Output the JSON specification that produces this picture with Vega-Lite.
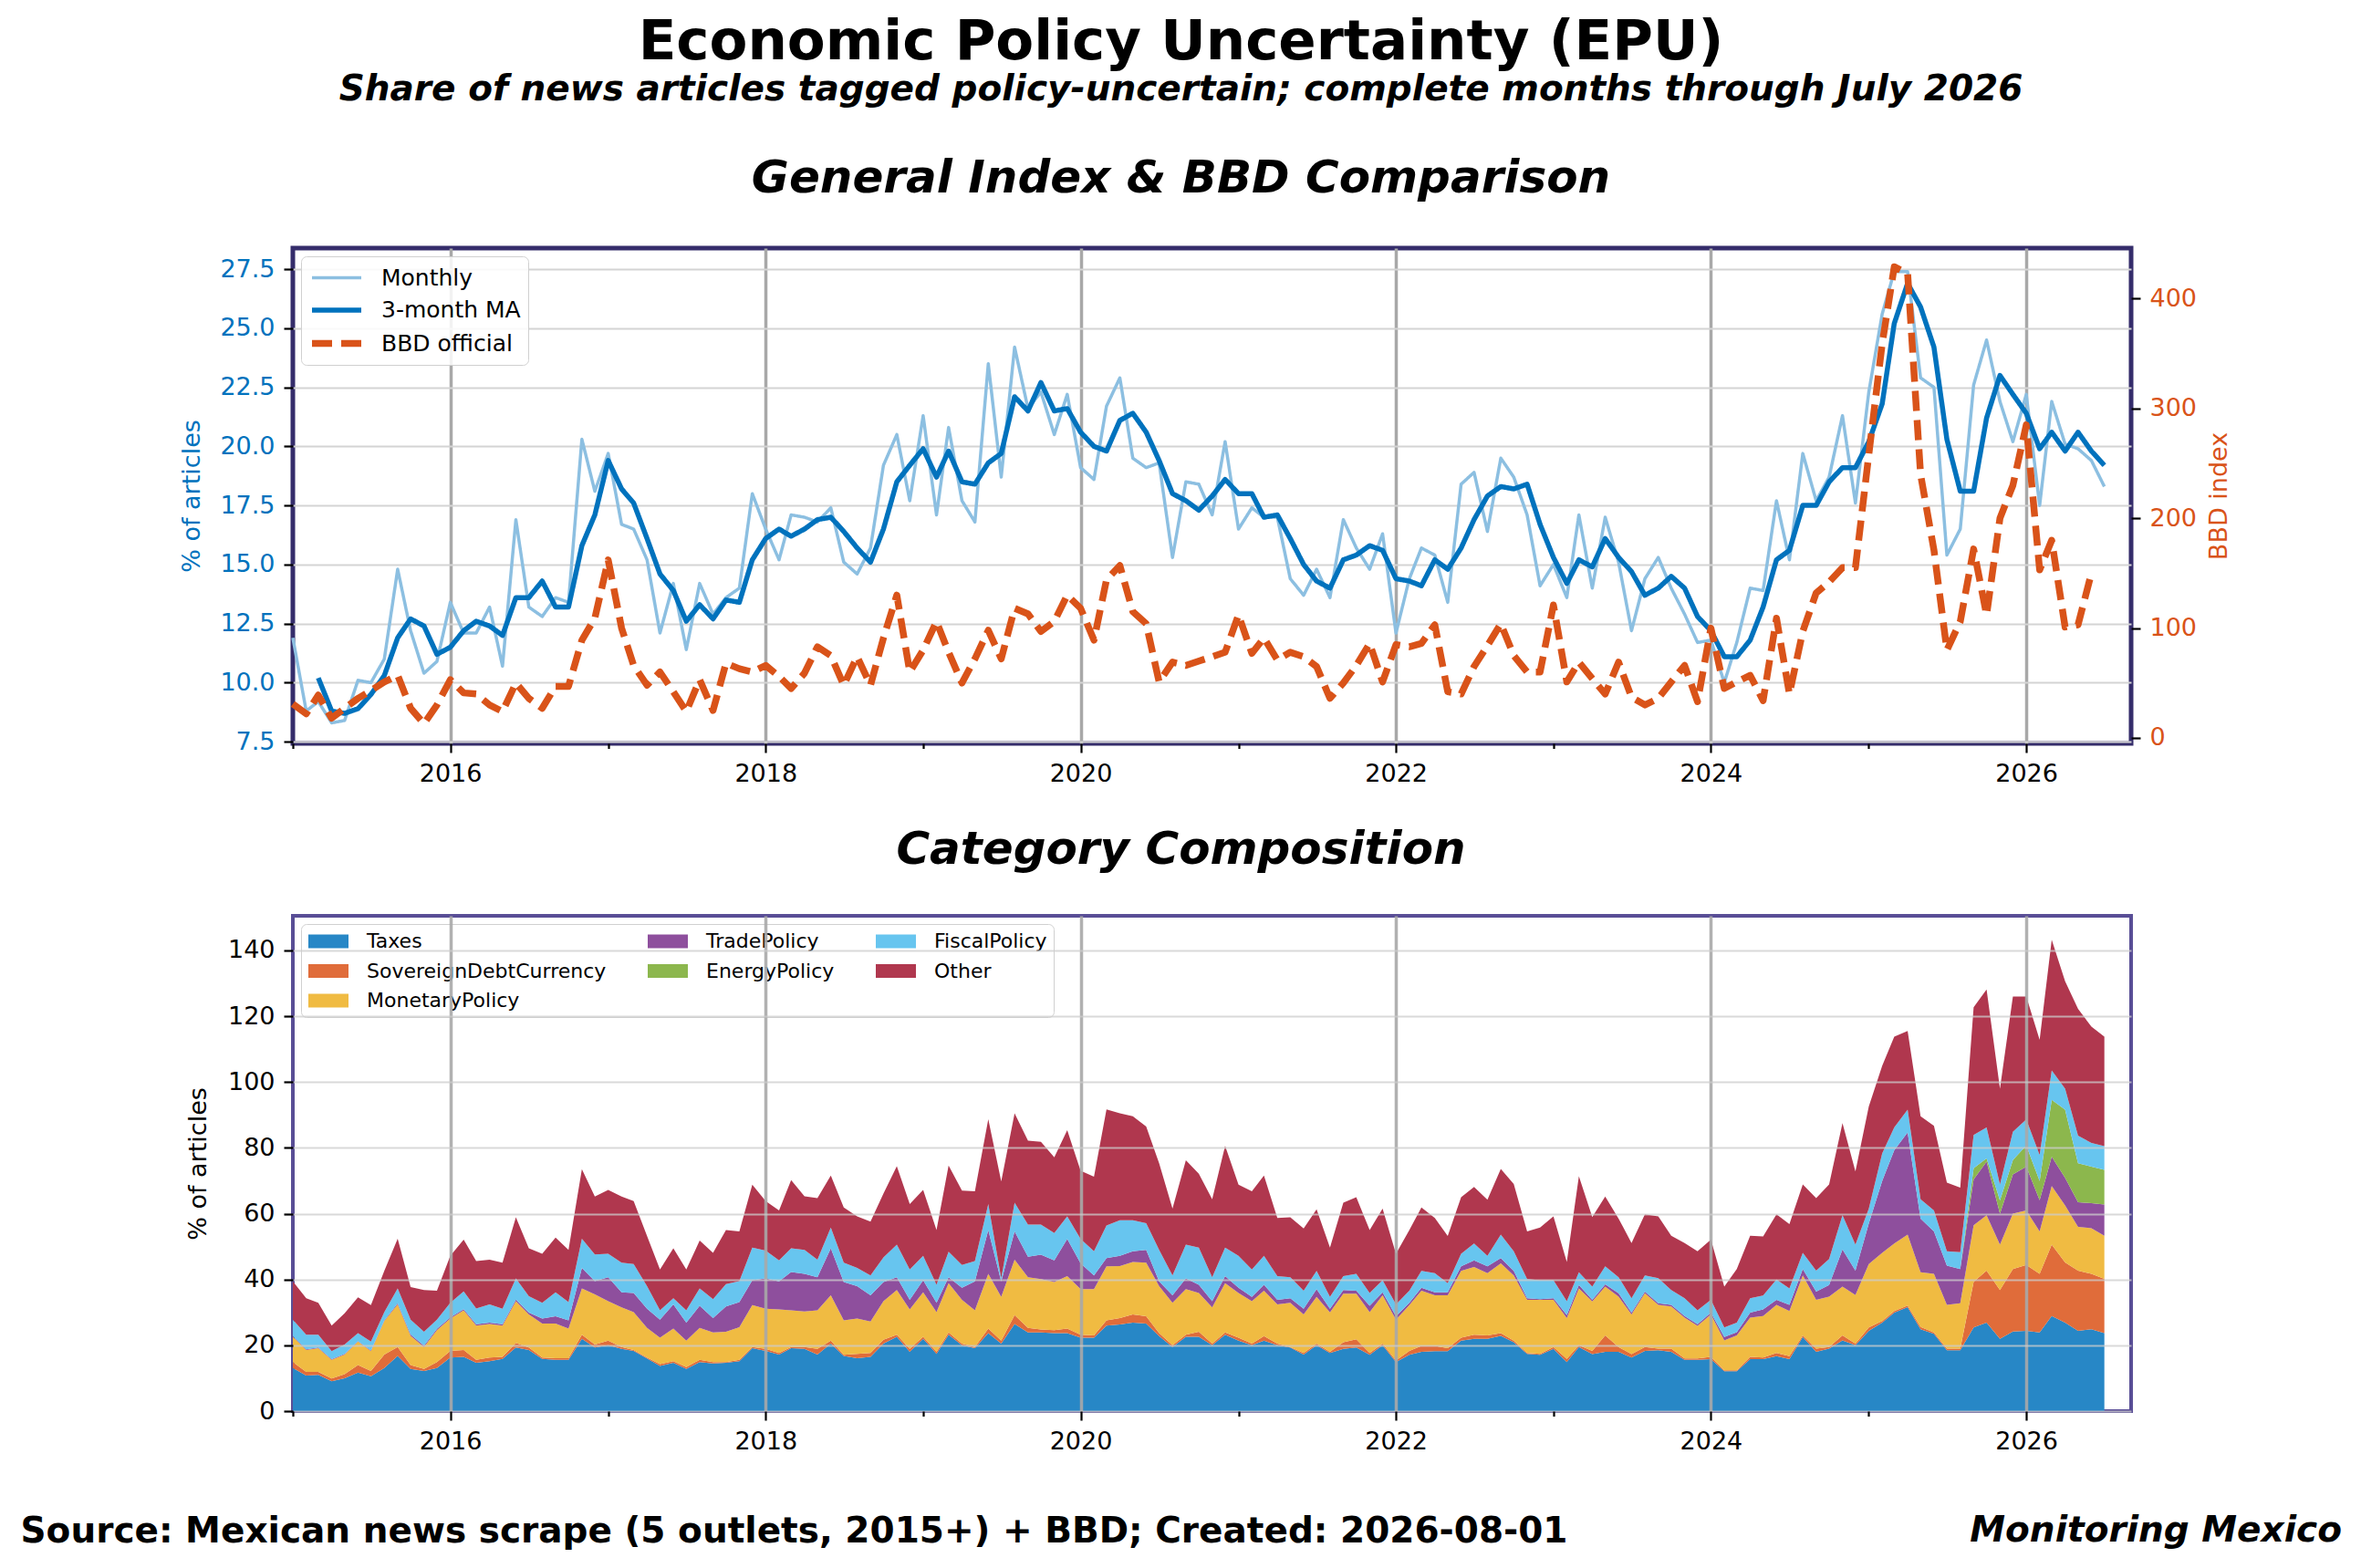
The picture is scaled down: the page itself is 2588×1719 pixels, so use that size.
{
"$schema": "https://vega.github.io/schema/vega-lite/v6.json",
"background": "white",
"padding": {"left": 20, "top": 15, "right": 20, "bottom": 10},
"title": {"text": "Economic Policy Uncertainty (EPU)", "subtitle": "Share of news articles tagged policy-uncertain; complete months through July 2026", "fontSize": 61, "fontWeight": "bold", "font": "DejaVu Sans", "color": "black", "subtitleFont": "DejaVu Sans", "subtitleFontSize": 39, "subtitleFontWeight": "bold", "subtitleFontStyle": "italic", "subtitleColor": "black", "subtitlePadding": 1, "anchor": "middle", "frame": "bounds", "offset": 50},
"datasets": {"ord": [{"category":"Taxes","o":1},{"category":"SovereignDebtCurrency","o":2},{"category":"MonetaryPolicy","o":3},{"category":"TradePolicy","o":4},{"category":"EnergyPolicy","o":5},{"category":"FiscalPolicy","o":6},{"category":"Other","o":7}]},
"data": {"values": [
{"d":"2015-01-01","Monthly":11.9,"3-month MA":null,"BBD official":31,"Taxes":13.1,"SovereignDebtCurrency":1.8,"MonetaryPolicy":7.7,"TradePolicy":0.2,"EnergyPolicy":0,"FiscalPolicy":5.0,"Other":11.6},
{"d":"2015-02-01","Monthly":8.8,"3-month MA":null,"BBD official":22,"Taxes":10.8,"SovereignDebtCurrency":1.1,"MonetaryPolicy":6.7,"TradePolicy":0.2,"EnergyPolicy":0,"FiscalPolicy":4.4,"Other":11.1},
{"d":"2015-03-01","Monthly":9.2,"3-month MA":10.2,"BBD official":39,"Taxes":11.0,"SovereignDebtCurrency":0.9,"MonetaryPolicy":7.2,"TradePolicy":0.2,"EnergyPolicy":0,"FiscalPolicy":3.9,"Other":9.7},
{"d":"2015-04-01","Monthly":8.3,"3-month MA":8.8,"BBD official":18,"Taxes":9.1,"SovereignDebtCurrency":0.8,"MonetaryPolicy":5.7,"TradePolicy":0.2,"EnergyPolicy":0,"FiscalPolicy":2.4,"Other":7.8},
{"d":"2015-05-01","Monthly":8.4,"3-month MA":8.7,"BBD official":27,"Taxes":10.0,"SovereignDebtCurrency":1.2,"MonetaryPolicy":6.0,"TradePolicy":0.2,"EnergyPolicy":0,"FiscalPolicy":2.8,"Other":9.5},
{"d":"2015-06-01","Monthly":10.1,"3-month MA":8.9,"BBD official":36,"Taxes":11.7,"SovereignDebtCurrency":2.3,"MonetaryPolicy":7.1,"TradePolicy":0.2,"EnergyPolicy":0,"FiscalPolicy":2.4,"Other":10.9},
{"d":"2015-07-01","Monthly":10.0,"3-month MA":9.5,"BBD official":43,"Taxes":10.6,"SovereignDebtCurrency":1.6,"MonetaryPolicy":6.0,"TradePolicy":0.2,"EnergyPolicy":0,"FiscalPolicy":2.7,"Other":11.1},
{"d":"2015-08-01","Monthly":11.0,"3-month MA":10.3,"BBD official":51,"Taxes":13.1,"SovereignDebtCurrency":4.1,"MonetaryPolicy":10.2,"TradePolicy":0.2,"EnergyPolicy":0,"FiscalPolicy":2.5,"Other":12.5},
{"d":"2015-09-01","Monthly":14.8,"3-month MA":11.9,"BBD official":57,"Taxes":16.8,"SovereignDebtCurrency":2.7,"MonetaryPolicy":12.9,"TradePolicy":0.4,"EnergyPolicy":0,"FiscalPolicy":4.5,"Other":15.1},
{"d":"2015-10-01","Monthly":12.2,"3-month MA":12.7,"BBD official":27,"Taxes":12.8,"SovereignDebtCurrency":1.2,"MonetaryPolicy":8.9,"TradePolicy":0.4,"EnergyPolicy":0,"FiscalPolicy":4.5,"Other":9.9},
{"d":"2015-11-01","Monthly":10.4,"3-month MA":12.4,"BBD official":13,"Taxes":12.2,"SovereignDebtCurrency":0.6,"MonetaryPolicy":6.7,"TradePolicy":0.4,"EnergyPolicy":0,"FiscalPolicy":4.2,"Other":12.7},
{"d":"2015-12-01","Monthly":10.9,"3-month MA":11.2,"BBD official":30,"Taxes":13.1,"SovereignDebtCurrency":1.8,"MonetaryPolicy":9.7,"TradePolicy":0.4,"EnergyPolicy":0,"FiscalPolicy":2.8,"Other":8.8},
{"d":"2016-01-01","Monthly":13.4,"3-month MA":11.5,"BBD official":53,"Taxes":16.3,"SovereignDebtCurrency":2.0,"MonetaryPolicy":9.8,"TradePolicy":0.4,"EnergyPolicy":0,"FiscalPolicy":4.4,"Other":14.3},
{"d":"2016-02-01","Monthly":12.1,"3-month MA":12.2,"BBD official":41,"Taxes":16.5,"SovereignDebtCurrency":2.1,"MonetaryPolicy":12.0,"TradePolicy":0.4,"EnergyPolicy":0,"FiscalPolicy":5.4,"Other":15.7},
{"d":"2016-03-01","Monthly":12.1,"3-month MA":12.6,"BBD official":40,"Taxes":14.7,"SovereignDebtCurrency":0.9,"MonetaryPolicy":10.4,"TradePolicy":0.4,"EnergyPolicy":0,"FiscalPolicy":4.8,"Other":14.4},
{"d":"2016-04-01","Monthly":13.2,"3-month MA":12.4,"BBD official":30,"Taxes":15.2,"SovereignDebtCurrency":1.1,"MonetaryPolicy":10.2,"TradePolicy":0.4,"EnergyPolicy":0,"FiscalPolicy":5.5,"Other":13.6},
{"d":"2016-05-01","Monthly":10.7,"3-month MA":12.0,"BBD official":24,"Taxes":15.9,"SovereignDebtCurrency":0.6,"MonetaryPolicy":9.5,"TradePolicy":0.4,"EnergyPolicy":0,"FiscalPolicy":4.7,"Other":14.0},
{"d":"2016-06-01","Monthly":16.9,"3-month MA":13.6,"BBD official":50,"Taxes":19.3,"SovereignDebtCurrency":1.4,"MonetaryPolicy":12.7,"TradePolicy":0.5,"EnergyPolicy":0,"FiscalPolicy":6.4,"Other":18.6},
{"d":"2016-07-01","Monthly":13.2,"3-month MA":13.6,"BBD official":36,"Taxes":18.6,"SovereignDebtCurrency":0.7,"MonetaryPolicy":10.1,"TradePolicy":0.5,"EnergyPolicy":0,"FiscalPolicy":5.0,"Other":14.6},
{"d":"2016-08-01","Monthly":12.8,"3-month MA":14.3,"BBD official":27,"Taxes":15.9,"SovereignDebtCurrency":0.4,"MonetaryPolicy":10.3,"TradePolicy":1.5,"EnergyPolicy":0,"FiscalPolicy":4.8,"Other":14.9},
{"d":"2016-09-01","Monthly":13.6,"3-month MA":13.2,"BBD official":47,"Taxes":15.6,"SovereignDebtCurrency":0.5,"MonetaryPolicy":10.5,"TradePolicy":2.2,"EnergyPolicy":0,"FiscalPolicy":7.3,"Other":16.6},
{"d":"2016-10-01","Monthly":13.4,"3-month MA":13.2,"BBD official":47,"Taxes":15.6,"SovereignDebtCurrency":0.5,"MonetaryPolicy":9.0,"TradePolicy":2.5,"EnergyPolicy":0,"FiscalPolicy":5.5,"Other":15.9},
{"d":"2016-11-01","Monthly":20.3,"3-month MA":15.8,"BBD official":89,"Taxes":22.0,"SovereignDebtCurrency":1.2,"MonetaryPolicy":14.1,"TradePolicy":6.2,"EnergyPolicy":0,"FiscalPolicy":8.9,"Other":21.1},
{"d":"2016-12-01","Monthly":18.1,"3-month MA":17.1,"BBD official":109,"Taxes":19.3,"SovereignDebtCurrency":0.9,"MonetaryPolicy":15.3,"TradePolicy":4.0,"EnergyPolicy":0,"FiscalPolicy":8.1,"Other":17.6},
{"d":"2017-01-01","Monthly":19.7,"3-month MA":19.4,"BBD official":162,"Taxes":20.0,"SovereignDebtCurrency":1.4,"MonetaryPolicy":12.0,"TradePolicy":7.3,"EnergyPolicy":0,"FiscalPolicy":7.1,"Other":19.4},
{"d":"2017-02-01","Monthly":16.7,"3-month MA":18.2,"BBD official":100,"Taxes":18.9,"SovereignDebtCurrency":0.6,"MonetaryPolicy":12.0,"TradePolicy":4.6,"EnergyPolicy":0,"FiscalPolicy":9.0,"Other":20.1},
{"d":"2017-03-01","Monthly":16.5,"3-month MA":17.6,"BBD official":66,"Taxes":18.3,"SovereignDebtCurrency":0.3,"MonetaryPolicy":11.5,"TradePolicy":5.8,"EnergyPolicy":0,"FiscalPolicy":8.8,"Other":19.1},
{"d":"2017-04-01","Monthly":15.2,"3-month MA":16.1,"BBD official":48,"Taxes":16.0,"SovereignDebtCurrency":0.3,"MonetaryPolicy":9.0,"TradePolicy":5.8,"EnergyPolicy":0,"FiscalPolicy":6.9,"Other":15.2},
{"d":"2017-05-01","Monthly":12.1,"3-month MA":14.6,"BBD official":60,"Taxes":13.7,"SovereignDebtCurrency":0.6,"MonetaryPolicy":8.0,"TradePolicy":5.5,"EnergyPolicy":0,"FiscalPolicy":2.8,"Other":12.4},
{"d":"2017-06-01","Monthly":14.2,"3-month MA":13.9,"BBD official":42,"Taxes":14.7,"SovereignDebtCurrency":0.5,"MonetaryPolicy":9.9,"TradePolicy":7.3,"EnergyPolicy":0,"FiscalPolicy":1.9,"Other":15.2},
{"d":"2017-07-01","Monthly":11.4,"3-month MA":12.6,"BBD official":24,"Taxes":12.8,"SovereignDebtCurrency":0.6,"MonetaryPolicy":8.0,"TradePolicy":5.5,"EnergyPolicy":0,"FiscalPolicy":3.7,"Other":12.4},
{"d":"2017-08-01","Monthly":14.2,"3-month MA":13.3,"BBD official":53,"Taxes":14.9,"SovereignDebtCurrency":0.7,"MonetaryPolicy":9.7,"TradePolicy":6.7,"EnergyPolicy":0,"FiscalPolicy":5.3,"Other":14.5},
{"d":"2017-09-01","Monthly":12.9,"3-month MA":12.7,"BBD official":25,"Taxes":14.5,"SovereignDebtCurrency":0.4,"MonetaryPolicy":9.0,"TradePolicy":4.4,"EnergyPolicy":0,"FiscalPolicy":5.7,"Other":14.1},
{"d":"2017-10-01","Monthly":13.6,"3-month MA":13.5,"BBD official":68,"Taxes":14.7,"SovereignDebtCurrency":0.2,"MonetaryPolicy":9.2,"TradePolicy":7.7,"EnergyPolicy":0,"FiscalPolicy":6.8,"Other":16.4},
{"d":"2017-11-01","Monthly":14.0,"3-month MA":13.4,"BBD official":63,"Taxes":15.2,"SovereignDebtCurrency":0.4,"MonetaryPolicy":9.9,"TradePolicy":7.6,"EnergyPolicy":0,"FiscalPolicy":6.4,"Other":15.1},
{"d":"2017-12-01","Monthly":18.0,"3-month MA":15.2,"BBD official":60,"Taxes":19.1,"SovereignDebtCurrency":0.4,"MonetaryPolicy":12.7,"TradePolicy":7.6,"EnergyPolicy":0,"FiscalPolicy":9.9,"Other":19.1},
{"d":"2018-01-01","Monthly":16.5,"3-month MA":16.1,"BBD official":66,"Taxes":18.3,"SovereignDebtCurrency":0.6,"MonetaryPolicy":12.2,"TradePolicy":9.2,"EnergyPolicy":0,"FiscalPolicy":8.5,"Other":15.0},
{"d":"2018-02-01","Monthly":15.2,"3-month MA":16.5,"BBD official":56,"Taxes":17.2,"SovereignDebtCurrency":0.5,"MonetaryPolicy":13.2,"TradePolicy":8.5,"EnergyPolicy":0,"FiscalPolicy":6.4,"Other":15.2},
{"d":"2018-03-01","Monthly":17.1,"3-month MA":16.2,"BBD official":45,"Taxes":19.1,"SovereignDebtCurrency":0.4,"MonetaryPolicy":11.1,"TradePolicy":11.7,"EnergyPolicy":0,"FiscalPolicy":7.2,"Other":20.7},
{"d":"2018-04-01","Monthly":17.0,"3-month MA":16.5,"BBD official":59,"Taxes":18.9,"SovereignDebtCurrency":0.6,"MonetaryPolicy":10.8,"TradePolicy":11.4,"EnergyPolicy":0,"FiscalPolicy":7.3,"Other":16.3},
{"d":"2018-05-01","Monthly":16.8,"3-month MA":16.9,"BBD official":83,"Taxes":17.2,"SovereignDebtCurrency":1.7,"MonetaryPolicy":11.7,"TradePolicy":10.1,"EnergyPolicy":0,"FiscalPolicy":5.3,"Other":18.7},
{"d":"2018-06-01","Monthly":17.4,"3-month MA":17.0,"BBD official":75,"Taxes":20.5,"SovereignDebtCurrency":0.9,"MonetaryPolicy":13.8,"TradePolicy":14.3,"EnergyPolicy":0,"FiscalPolicy":6.3,"Other":15.8},
{"d":"2018-07-01","Monthly":15.1,"3-month MA":16.4,"BBD official":48,"Taxes":16.8,"SovereignDebtCurrency":0.3,"MonetaryPolicy":10.5,"TradePolicy":11.6,"EnergyPolicy":0,"FiscalPolicy":5.9,"Other":16.8},
{"d":"2018-08-01","Monthly":14.6,"3-month MA":15.7,"BBD official":74,"Taxes":16.1,"SovereignDebtCurrency":1.3,"MonetaryPolicy":10.7,"TradePolicy":9.9,"EnergyPolicy":0,"FiscalPolicy":5.5,"Other":15.7},
{"d":"2018-09-01","Monthly":15.7,"3-month MA":15.1,"BBD official":48,"Taxes":16.5,"SovereignDebtCurrency":1.2,"MonetaryPolicy":9.5,"TradePolicy":8.0,"EnergyPolicy":0,"FiscalPolicy":6.0,"Other":16.4},
{"d":"2018-10-01","Monthly":19.2,"3-month MA":16.5,"BBD official":91,"Taxes":20.5,"SovereignDebtCurrency":1.2,"MonetaryPolicy":11.7,"TradePolicy":5.8,"EnergyPolicy":0,"FiscalPolicy":7.5,"Other":19.4},
{"d":"2018-11-01","Monthly":20.5,"3-month MA":18.5,"BBD official":130,"Taxes":22.6,"SovereignDebtCurrency":0.6,"MonetaryPolicy":13.6,"TradePolicy":3.9,"EnergyPolicy":0,"FiscalPolicy":9.9,"Other":23.8},
{"d":"2018-12-01","Monthly":17.7,"3-month MA":19.2,"BBD official":60,"Taxes":18.0,"SovereignDebtCurrency":0.9,"MonetaryPolicy":12.0,"TradePolicy":2.9,"EnergyPolicy":0,"FiscalPolicy":9.2,"Other":19.9},
{"d":"2019-01-01","Monthly":21.3,"3-month MA":19.9,"BBD official":80,"Taxes":22.0,"SovereignDebtCurrency":0.6,"MonetaryPolicy":13.5,"TradePolicy":3.7,"EnergyPolicy":0,"FiscalPolicy":7.4,"Other":20.0},
{"d":"2019-02-01","Monthly":17.1,"3-month MA":18.7,"BBD official":106,"Taxes":17.4,"SovereignDebtCurrency":0.6,"MonetaryPolicy":12.1,"TradePolicy":2.8,"EnergyPolicy":0,"FiscalPolicy":5.5,"Other":16.6},
{"d":"2019-03-01","Monthly":20.8,"3-month MA":19.8,"BBD official":78,"Taxes":23.2,"SovereignDebtCurrency":0.7,"MonetaryPolicy":15.0,"TradePolicy":1.8,"EnergyPolicy":0,"FiscalPolicy":7.7,"Other":26.2},
{"d":"2019-04-01","Monthly":17.7,"3-month MA":18.5,"BBD official":50,"Taxes":20.0,"SovereignDebtCurrency":0.5,"MonetaryPolicy":13.3,"TradePolicy":3.7,"EnergyPolicy":0,"FiscalPolicy":6.9,"Other":22.6},
{"d":"2019-05-01","Monthly":16.8,"3-month MA":18.4,"BBD official":72,"Taxes":19.1,"SovereignDebtCurrency":0.4,"MonetaryPolicy":11.1,"TradePolicy":8.8,"EnergyPolicy":0,"FiscalPolicy":6.2,"Other":21.2},
{"d":"2019-06-01","Monthly":23.5,"3-month MA":19.3,"BBD official":98,"Taxes":23.7,"SovereignDebtCurrency":1.4,"MonetaryPolicy":16.6,"TradePolicy":13.3,"EnergyPolicy":0,"FiscalPolicy":7.9,"Other":25.8},
{"d":"2019-07-01","Monthly":18.7,"3-month MA":19.7,"BBD official":72,"Taxes":20.5,"SovereignDebtCurrency":0.9,"MonetaryPolicy":13.3,"TradePolicy":4.7,"EnergyPolicy":0,"FiscalPolicy":0.9,"Other":29.5},
{"d":"2019-08-01","Monthly":24.2,"3-month MA":22.1,"BBD official":118,"Taxes":26.5,"SovereignDebtCurrency":2.7,"MonetaryPolicy":16.8,"TradePolicy":8.6,"EnergyPolicy":0,"FiscalPolicy":8.7,"Other":27.2},
{"d":"2019-09-01","Monthly":21.6,"3-month MA":21.5,"BBD official":113,"Taxes":23.9,"SovereignDebtCurrency":1.4,"MonetaryPolicy":15.4,"TradePolicy":6.2,"EnergyPolicy":0,"FiscalPolicy":9.8,"Other":25.5},
{"d":"2019-10-01","Monthly":22.3,"3-month MA":22.7,"BBD official":97,"Taxes":23.9,"SovereignDebtCurrency":0.9,"MonetaryPolicy":15.3,"TradePolicy":7.4,"EnergyPolicy":0,"FiscalPolicy":9.2,"Other":25.1},
{"d":"2019-11-01","Monthly":20.5,"3-month MA":21.5,"BBD official":106,"Taxes":23.7,"SovereignDebtCurrency":0.9,"MonetaryPolicy":14.6,"TradePolicy":6.6,"EnergyPolicy":0,"FiscalPolicy":8.3,"Other":23.0},
{"d":"2019-12-01","Monthly":22.2,"3-month MA":21.6,"BBD official":130,"Taxes":23.7,"SovereignDebtCurrency":1.4,"MonetaryPolicy":15.9,"TradePolicy":11.3,"EnergyPolicy":0,"FiscalPolicy":6.9,"Other":26.2},
{"d":"2020-01-01","Monthly":19.1,"3-month MA":20.6,"BBD official":118,"Taxes":22.3,"SovereignDebtCurrency":0.9,"MonetaryPolicy":13.9,"TradePolicy":7.8,"EnergyPolicy":0,"FiscalPolicy":7.4,"Other":20.7},
{"d":"2020-02-01","Monthly":18.6,"3-month MA":20.0,"BBD official":89,"Taxes":22.3,"SovereignDebtCurrency":0.7,"MonetaryPolicy":14.1,"TradePolicy":4.1,"EnergyPolicy":0,"FiscalPolicy":7.4,"Other":22.6},
{"d":"2020-03-01","Monthly":21.7,"3-month MA":19.8,"BBD official":144,"Taxes":26.0,"SovereignDebtCurrency":1.6,"MonetaryPolicy":16.4,"TradePolicy":2.5,"EnergyPolicy":0,"FiscalPolicy":9.9,"Other":35.3},
{"d":"2020-04-01","Monthly":22.9,"3-month MA":21.1,"BBD official":157,"Taxes":26.3,"SovereignDebtCurrency":2.0,"MonetaryPolicy":15.8,"TradePolicy":3.1,"EnergyPolicy":0,"FiscalPolicy":10.8,"Other":32.5},
{"d":"2020-05-01","Monthly":19.5,"3-month MA":21.4,"BBD official":115,"Taxes":26.9,"SovereignDebtCurrency":2.5,"MonetaryPolicy":15.9,"TradePolicy":3.3,"EnergyPolicy":0,"FiscalPolicy":9.4,"Other":31.6},
{"d":"2020-06-01","Monthly":19.1,"3-month MA":20.6,"BBD official":104,"Taxes":26.6,"SovereignDebtCurrency":2.2,"MonetaryPolicy":16.3,"TradePolicy":3.9,"EnergyPolicy":0,"FiscalPolicy":8.1,"Other":29.4},
{"d":"2020-07-01","Monthly":19.3,"3-month MA":19.4,"BBD official":51,"Taxes":22.8,"SovereignDebtCurrency":0.9,"MonetaryPolicy":14.3,"TradePolicy":1.4,"EnergyPolicy":0,"FiscalPolicy":9.6,"Other":26.3},
{"d":"2020-08-01","Monthly":15.3,"3-month MA":18.0,"BBD official":69,"Taxes":19.5,"SovereignDebtCurrency":0.5,"MonetaryPolicy":12.9,"TradePolicy":2.3,"EnergyPolicy":0,"FiscalPolicy":6.0,"Other":20.3},
{"d":"2020-09-01","Monthly":18.5,"3-month MA":17.7,"BBD official":66,"Taxes":22.6,"SovereignDebtCurrency":0.6,"MonetaryPolicy":13.9,"TradePolicy":3.2,"EnergyPolicy":0,"FiscalPolicy":10.3,"Other":25.6},
{"d":"2020-10-01","Monthly":18.4,"3-month MA":17.3,"BBD official":70,"Taxes":22.6,"SovereignDebtCurrency":1.5,"MonetaryPolicy":11.8,"TradePolicy":2.5,"EnergyPolicy":0,"FiscalPolicy":11.3,"Other":22.4},
{"d":"2020-11-01","Monthly":17.1,"3-month MA":17.9,"BBD official":74,"Taxes":20.0,"SovereignDebtCurrency":0.5,"MonetaryPolicy":11.0,"TradePolicy":1.9,"EnergyPolicy":0,"FiscalPolicy":7.3,"Other":23.7},
{"d":"2020-12-01","Monthly":20.2,"3-month MA":18.6,"BBD official":78,"Taxes":23.2,"SovereignDebtCurrency":0.7,"MonetaryPolicy":15.0,"TradePolicy":2.1,"EnergyPolicy":0,"FiscalPolicy":8.7,"Other":30.9},
{"d":"2021-01-01","Monthly":16.5,"3-month MA":18.0,"BBD official":112,"Taxes":21.4,"SovereignDebtCurrency":0.9,"MonetaryPolicy":13.6,"TradePolicy":1.6,"EnergyPolicy":0,"FiscalPolicy":9.7,"Other":21.6},
{"d":"2021-02-01","Monthly":17.4,"3-month MA":18.0,"BBD official":77,"Taxes":20.0,"SovereignDebtCurrency":0.5,"MonetaryPolicy":12.9,"TradePolicy":1.3,"EnergyPolicy":0,"FiscalPolicy":8.3,"Other":23.8},
{"d":"2021-03-01","Monthly":17.0,"3-month MA":17.0,"BBD official":91,"Taxes":21.4,"SovereignDebtCurrency":1.4,"MonetaryPolicy":13.8,"TradePolicy":1.8,"EnergyPolicy":0,"FiscalPolicy":8.8,"Other":24.4},
{"d":"2021-04-01","Monthly":17.0,"3-month MA":17.1,"BBD official":71,"Taxes":20.0,"SovereignDebtCurrency":0.5,"MonetaryPolicy":11.9,"TradePolicy":1.4,"EnergyPolicy":0,"FiscalPolicy":7.2,"Other":17.7},
{"d":"2021-05-01","Monthly":14.4,"3-month MA":16.1,"BBD official":78,"Taxes":19.3,"SovereignDebtCurrency":0.2,"MonetaryPolicy":13.4,"TradePolicy":1.4,"EnergyPolicy":0,"FiscalPolicy":6.4,"Other":18.2},
{"d":"2021-06-01","Monthly":13.7,"3-month MA":15.0,"BBD official":74,"Taxes":17.2,"SovereignDebtCurrency":0.5,"MonetaryPolicy":11.7,"TradePolicy":1.7,"EnergyPolicy":0,"FiscalPolicy":5.5,"Other":18.9},
{"d":"2021-07-01","Monthly":14.8,"3-month MA":14.3,"BBD official":65,"Taxes":20.0,"SovereignDebtCurrency":0.5,"MonetaryPolicy":14.2,"TradePolicy":2.4,"EnergyPolicy":0,"FiscalPolicy":5.5,"Other":18.7},
{"d":"2021-08-01","Monthly":13.6,"3-month MA":14.0,"BBD official":36,"Taxes":17.7,"SovereignDebtCurrency":0.3,"MonetaryPolicy":12.0,"TradePolicy":1.1,"EnergyPolicy":0,"FiscalPolicy":3.6,"Other":15.0},
{"d":"2021-09-01","Monthly":16.9,"3-month MA":15.2,"BBD official":50,"Taxes":18.9,"SovereignDebtCurrency":2.0,"MonetaryPolicy":14.8,"TradePolicy":1.1,"EnergyPolicy":0,"FiscalPolicy":4.2,"Other":22.3},
{"d":"2021-10-01","Monthly":15.7,"3-month MA":15.4,"BBD official":66,"Taxes":19.3,"SovereignDebtCurrency":2.5,"MonetaryPolicy":13.9,"TradePolicy":0.9,"EnergyPolicy":0,"FiscalPolicy":5.1,"Other":23.3},
{"d":"2021-11-01","Monthly":14.8,"3-month MA":15.8,"BBD official":86,"Taxes":17.1,"SovereignDebtCurrency":0.6,"MonetaryPolicy":12.4,"TradePolicy":1.9,"EnergyPolicy":0,"FiscalPolicy":3.9,"Other":19.1},
{"d":"2021-12-01","Monthly":16.3,"3-month MA":15.6,"BBD official":51,"Taxes":20.0,"SovereignDebtCurrency":0.5,"MonetaryPolicy":14.7,"TradePolicy":0.9,"EnergyPolicy":0,"FiscalPolicy":3.7,"Other":21.7},
{"d":"2022-01-01","Monthly":12.1,"3-month MA":14.4,"BBD official":85,"Taxes":14.9,"SovereignDebtCurrency":0.5,"MonetaryPolicy":12.4,"TradePolicy":1.0,"EnergyPolicy":0,"FiscalPolicy":3.6,"Other":15.4},
{"d":"2022-02-01","Monthly":14.4,"3-month MA":14.3,"BBD official":83,"Taxes":17.1,"SovereignDebtCurrency":1.2,"MonetaryPolicy":13.9,"TradePolicy":0.7,"EnergyPolicy":0,"FiscalPolicy":3.7,"Other":18.4},
{"d":"2022-03-01","Monthly":15.7,"3-month MA":14.1,"BBD official":86,"Taxes":18.0,"SovereignDebtCurrency":1.8,"MonetaryPolicy":16.8,"TradePolicy":0.9,"EnergyPolicy":0,"FiscalPolicy":5.1,"Other":19.3},
{"d":"2022-04-01","Monthly":15.4,"3-month MA":15.2,"BBD official":103,"Taxes":18.2,"SovereignDebtCurrency":1.6,"MonetaryPolicy":15.4,"TradePolicy":0.9,"EnergyPolicy":0,"FiscalPolicy":5.8,"Other":16.8},
{"d":"2022-05-01","Monthly":13.4,"3-month MA":14.8,"BBD official":42,"Taxes":18.2,"SovereignDebtCurrency":0.9,"MonetaryPolicy":16.1,"TradePolicy":0.9,"EnergyPolicy":0,"FiscalPolicy":2.8,"Other":14.3},
{"d":"2022-06-01","Monthly":18.4,"3-month MA":15.7,"BBD official":40,"Taxes":21.4,"SovereignDebtCurrency":0.9,"MonetaryPolicy":20.3,"TradePolicy":1.4,"EnergyPolicy":0,"FiscalPolicy":3.8,"Other":17.2},
{"d":"2022-07-01","Monthly":18.9,"3-month MA":16.9,"BBD official":65,"Taxes":22.0,"SovereignDebtCurrency":1.2,"MonetaryPolicy":20.6,"TradePolicy":2.0,"EnergyPolicy":0,"FiscalPolicy":5.1,"Other":17.2},
{"d":"2022-08-01","Monthly":16.4,"3-month MA":17.9,"BBD official":84,"Taxes":22.0,"SovereignDebtCurrency":1.0,"MonetaryPolicy":18.9,"TradePolicy":2.1,"EnergyPolicy":0,"FiscalPolicy":3.2,"Other":17.0},
{"d":"2022-09-01","Monthly":19.5,"3-month MA":18.3,"BBD official":104,"Taxes":22.9,"SovereignDebtCurrency":0.8,"MonetaryPolicy":21.2,"TradePolicy":1.6,"EnergyPolicy":0,"FiscalPolicy":7.1,"Other":20.0},
{"d":"2022-10-01","Monthly":18.7,"3-month MA":18.2,"BBD official":75,"Taxes":20.9,"SovereignDebtCurrency":0.5,"MonetaryPolicy":19.8,"TradePolicy":1.4,"EnergyPolicy":0,"FiscalPolicy":6.0,"Other":20.4},
{"d":"2022-11-01","Monthly":17.1,"3-month MA":18.4,"BBD official":60,"Taxes":17.4,"SovereignDebtCurrency":0.3,"MonetaryPolicy":16.1,"TradePolicy":0.5,"EnergyPolicy":0,"FiscalPolicy":5.8,"Other":14.5},
{"d":"2022-12-01","Monthly":14.1,"3-month MA":16.7,"BBD official":60,"Taxes":17.1,"SovereignDebtCurrency":0.3,"MonetaryPolicy":16.4,"TradePolicy":0.2,"EnergyPolicy":0,"FiscalPolicy":5.8,"Other":16.0},
{"d":"2023-01-01","Monthly":15.0,"3-month MA":15.3,"BBD official":121,"Taxes":18.9,"SovereignDebtCurrency":0.6,"MonetaryPolicy":14.3,"TradePolicy":0.5,"EnergyPolicy":0,"FiscalPolicy":5.5,"Other":19.4},
{"d":"2023-02-01","Monthly":13.6,"3-month MA":14.2,"BBD official":51,"Taxes":14.9,"SovereignDebtCurrency":1.0,"MonetaryPolicy":12.4,"TradePolicy":0.9,"EnergyPolicy":0,"FiscalPolicy":4.2,"Other":11.9},
{"d":"2023-03-01","Monthly":17.1,"3-month MA":15.2,"BBD official":69,"Taxes":19.5,"SovereignDebtCurrency":0.5,"MonetaryPolicy":17.3,"TradePolicy":1.0,"EnergyPolicy":0,"FiscalPolicy":3.9,"Other":29.2},
{"d":"2023-04-01","Monthly":14.0,"3-month MA":14.9,"BBD official":54,"Taxes":17.3,"SovereignDebtCurrency":1.0,"MonetaryPolicy":15.0,"TradePolicy":0.5,"EnergyPolicy":0,"FiscalPolicy":4.0,"Other":21.2},
{"d":"2023-05-01","Monthly":17.0,"3-month MA":16.1,"BBD official":40,"Taxes":18.0,"SovereignDebtCurrency":5.0,"MonetaryPolicy":14.8,"TradePolicy":0.7,"EnergyPolicy":0,"FiscalPolicy":5.5,"Other":21.2},
{"d":"2023-06-01","Monthly":15.1,"3-month MA":15.3,"BBD official":69,"Taxes":18.0,"SovereignDebtCurrency":1.5,"MonetaryPolicy":15.3,"TradePolicy":1.0,"EnergyPolicy":0,"FiscalPolicy":4.9,"Other":17.8},
{"d":"2023-07-01","Monthly":12.2,"3-month MA":14.7,"BBD official":37,"Taxes":16.3,"SovereignDebtCurrency":1.0,"MonetaryPolicy":12.1,"TradePolicy":0.5,"EnergyPolicy":0,"FiscalPolicy":4.4,"Other":16.8},
{"d":"2023-08-01","Monthly":14.4,"3-month MA":13.7,"BBD official":30,"Taxes":18.3,"SovereignDebtCurrency":1.2,"MonetaryPolicy":16.3,"TradePolicy":0.5,"EnergyPolicy":0,"FiscalPolicy":4.9,"Other":18.6},
{"d":"2023-09-01","Monthly":15.3,"3-month MA":14.0,"BBD official":36,"Taxes":18.5,"SovereignDebtCurrency":0.5,"MonetaryPolicy":13.3,"TradePolicy":0.5,"EnergyPolicy":0,"FiscalPolicy":7.6,"Other":18.8},
{"d":"2023-10-01","Monthly":14.0,"3-month MA":14.5,"BBD official":51,"Taxes":18.0,"SovereignDebtCurrency":1.0,"MonetaryPolicy":12.8,"TradePolicy":0.5,"EnergyPolicy":0,"FiscalPolicy":4.5,"Other":16.5},
{"d":"2023-11-01","Monthly":12.9,"3-month MA":14.0,"BBD official":66,"Taxes":15.6,"SovereignDebtCurrency":0.4,"MonetaryPolicy":12.4,"TradePolicy":0.5,"EnergyPolicy":0,"FiscalPolicy":5.4,"Other":16.8},
{"d":"2023-12-01","Monthly":11.7,"3-month MA":12.8,"BBD official":33,"Taxes":15.6,"SovereignDebtCurrency":0.4,"MonetaryPolicy":9.9,"TradePolicy":0.5,"EnergyPolicy":0,"FiscalPolicy":4.2,"Other":18.0},
{"d":"2024-01-01","Monthly":11.8,"3-month MA":12.2,"BBD official":100,"Taxes":15.8,"SovereignDebtCurrency":0.7,"MonetaryPolicy":12.9,"TradePolicy":0.5,"EnergyPolicy":0,"FiscalPolicy":3.9,"Other":18.3},
{"d":"2024-02-01","Monthly":10.0,"3-month MA":11.1,"BBD official":45,"Taxes":12.1,"SovereignDebtCurrency":0.3,"MonetaryPolicy":9.1,"TradePolicy":1.0,"EnergyPolicy":0,"FiscalPolicy":2.9,"Other":12.4},
{"d":"2024-03-01","Monthly":11.7,"3-month MA":11.1,"BBD official":51,"Taxes":12.1,"SovereignDebtCurrency":0.3,"MonetaryPolicy":10.6,"TradePolicy":1.0,"EnergyPolicy":0,"FiscalPolicy":2.9,"Other":16.3},
{"d":"2024-04-01","Monthly":14.0,"3-month MA":11.8,"BBD official":57,"Taxes":15.8,"SovereignDebtCurrency":0.7,"MonetaryPolicy":11.9,"TradePolicy":1.5,"EnergyPolicy":0,"FiscalPolicy":4.4,"Other":19.0},
{"d":"2024-05-01","Monthly":13.9,"3-month MA":13.2,"BBD official":34,"Taxes":15.8,"SovereignDebtCurrency":0.5,"MonetaryPolicy":12.6,"TradePolicy":2.0,"EnergyPolicy":0,"FiscalPolicy":4.2,"Other":18.0},
{"d":"2024-06-01","Monthly":17.7,"3-month MA":15.2,"BBD official":109,"Taxes":16.7,"SovereignDebtCurrency":1.0,"MonetaryPolicy":14.6,"TradePolicy":1.5,"EnergyPolicy":0,"FiscalPolicy":6.2,"Other":19.8},
{"d":"2024-07-01","Monthly":15.2,"3-month MA":15.6,"BBD official":40,"Taxes":15.8,"SovereignDebtCurrency":0.9,"MonetaryPolicy":13.7,"TradePolicy":1.9,"EnergyPolicy":0,"FiscalPolicy":5.0,"Other":19.5},
{"d":"2024-08-01","Monthly":19.7,"3-month MA":17.5,"BBD official":97,"Taxes":22.5,"SovereignDebtCurrency":0.5,"MonetaryPolicy":18.2,"TradePolicy":2.0,"EnergyPolicy":0,"FiscalPolicy":4.9,"Other":20.8},
{"d":"2024-09-01","Monthly":17.7,"3-month MA":17.5,"BBD official":132,"Taxes":18.0,"SovereignDebtCurrency":1.0,"MonetaryPolicy":14.8,"TradePolicy":2.5,"EnergyPolicy":0,"FiscalPolicy":6.4,"Other":22.0},
{"d":"2024-10-01","Monthly":18.7,"3-month MA":18.5,"BBD official":142,"Taxes":19.0,"SovereignDebtCurrency":0.5,"MonetaryPolicy":15.3,"TradePolicy":3.5,"EnergyPolicy":0,"FiscalPolicy":7.9,"Other":22.7},
{"d":"2024-11-01","Monthly":21.3,"3-month MA":19.1,"BBD official":155,"Taxes":21.5,"SovereignDebtCurrency":1.5,"MonetaryPolicy":14.8,"TradePolicy":11.3,"EnergyPolicy":0,"FiscalPolicy":10.4,"Other":28.0},
{"d":"2024-12-01","Monthly":17.6,"3-month MA":19.1,"BBD official":155,"Taxes":20.0,"SovereignDebtCurrency":0.5,"MonetaryPolicy":14.8,"TradePolicy":7.4,"EnergyPolicy":0,"FiscalPolicy":7.9,"Other":22.2},
{"d":"2025-01-01","Monthly":22.3,"3-month MA":20.2,"BBD official":258,"Taxes":24.4,"SovereignDebtCurrency":1.0,"MonetaryPolicy":19.3,"TradePolicy":12.3,"EnergyPolicy":0,"FiscalPolicy":4.5,"Other":31.1},
{"d":"2025-02-01","Monthly":25.6,"3-month MA":21.8,"BBD official":359,"Taxes":26.9,"SovereignDebtCurrency":0.5,"MonetaryPolicy":20.7,"TradePolicy":21.8,"EnergyPolicy":0,"FiscalPolicy":8.4,"Other":26.6},
{"d":"2025-03-01","Monthly":27.4,"3-month MA":25.2,"BBD official":429,"Taxes":29.9,"SovereignDebtCurrency":0.5,"MonetaryPolicy":20.5,"TradePolicy":28.4,"EnergyPolicy":0,"FiscalPolicy":6.9,"Other":27.6},
{"d":"2025-04-01","Monthly":27.4,"3-month MA":26.9,"BBD official":423,"Taxes":31.6,"SovereignDebtCurrency":0.5,"MonetaryPolicy":21.5,"TradePolicy":31.1,"EnergyPolicy":0,"FiscalPolicy":6.9,"Other":23.9},
{"d":"2025-05-01","Monthly":22.9,"3-month MA":25.9,"BBD official":240,"Taxes":24.9,"SovereignDebtCurrency":0.7,"MonetaryPolicy":16.6,"TradePolicy":16.3,"EnergyPolicy":0,"FiscalPolicy":5.9,"Other":25.2},
{"d":"2025-06-01","Monthly":22.5,"3-month MA":24.2,"BBD official":171,"Taxes":23.5,"SovereignDebtCurrency":0.4,"MonetaryPolicy":17.8,"TradePolicy":12.9,"EnergyPolicy":0,"FiscalPolicy":6.4,"Other":25.7},
{"d":"2025-07-01","Monthly":15.4,"3-month MA":20.3,"BBD official":80,"Taxes":18.5,"SovereignDebtCurrency":0.5,"MonetaryPolicy":13.3,"TradePolicy":11.9,"EnergyPolicy":0,"FiscalPolicy":4.4,"Other":20.8},
{"d":"2025-08-01","Monthly":16.5,"3-month MA":18.1,"BBD official":106,"Taxes":18.5,"SovereignDebtCurrency":0.5,"MonetaryPolicy":13.8,"TradePolicy":10.4,"EnergyPolicy":0,"FiscalPolicy":5.1,"Other":19.6},
{"d":"2025-09-01","Monthly":22.6,"3-month MA":18.1,"BBD official":172,"Taxes":25.4,"SovereignDebtCurrency":13.9,"MonetaryPolicy":17.2,"TradePolicy":13.9,"EnergyPolicy":3.4,"FiscalPolicy":10.1,"Other":38.8},
{"d":"2025-10-01","Monthly":24.5,"3-month MA":21.2,"BBD official":112,"Taxes":26.9,"SovereignDebtCurrency":15.8,"MonetaryPolicy":16.8,"TradePolicy":16.3,"EnergyPolicy":1.0,"FiscalPolicy":9.4,"Other":41.9},
{"d":"2025-11-01","Monthly":21.9,"3-month MA":23.0,"BBD official":200,"Taxes":22.0,"SovereignDebtCurrency":14.8,"MonetaryPolicy":13.8,"TradePolicy":9.4,"EnergyPolicy":4.0,"FiscalPolicy":4.9,"Other":29.1},
{"d":"2025-12-01","Monthly":20.2,"3-month MA":22.2,"BBD official":230,"Taxes":24.2,"SovereignDebtCurrency":19.0,"MonetaryPolicy":16.8,"TradePolicy":11.9,"EnergyPolicy":4.4,"FiscalPolicy":8.6,"Other":41.1},
{"d":"2026-01-01","Monthly":22.2,"3-month MA":21.4,"BBD official":285,"Taxes":24.4,"SovereignDebtCurrency":20.0,"MonetaryPolicy":16.6,"TradePolicy":13.3,"EnergyPolicy":6.4,"FiscalPolicy":7.9,"Other":37.4},
{"d":"2026-02-01","Monthly":17.5,"3-month MA":19.9,"BBD official":153,"Taxes":23.9,"SovereignDebtCurrency":17.8,"MonetaryPolicy":12.9,"TradePolicy":9.5,"EnergyPolicy":5.8,"FiscalPolicy":7.9,"Other":35.0},
{"d":"2026-03-01","Monthly":21.9,"3-month MA":20.6,"BBD official":180,"Taxes":28.9,"SovereignDebtCurrency":21.7,"MonetaryPolicy":17.8,"TradePolicy":8.9,"EnergyPolicy":17.3,"FiscalPolicy":8.9,"Other":39.7},
{"d":"2026-04-01","Monthly":20.1,"3-month MA":19.8,"BBD official":101,"Taxes":26.9,"SovereignDebtCurrency":18.3,"MonetaryPolicy":17.3,"TradePolicy":8.4,"EnergyPolicy":20.7,"FiscalPolicy":6.4,"Other":32.6},
{"d":"2026-05-01","Monthly":19.9,"3-month MA":20.6,"BBD official":103,"Taxes":24.4,"SovereignDebtCurrency":18.3,"MonetaryPolicy":13.3,"TradePolicy":7.5,"EnergyPolicy":11.8,"FiscalPolicy":8.4,"Other":38.5},
{"d":"2026-06-01","Monthly":19.4,"3-month MA":19.8,"BBD official":150,"Taxes":24.9,"SovereignDebtCurrency":16.8,"MonetaryPolicy":13.9,"TradePolicy":7.6,"EnergyPolicy":11.1,"FiscalPolicy":7.2,"Other":35.3},
{"d":"2026-07-01","Monthly":18.3,"3-month MA":19.2,"BBD official":null,"Taxes":23.7,"SovereignDebtCurrency":16.5,"MonetaryPolicy":13.1,"TradePolicy":9.5,"EnergyPolicy":10.5,"FiscalPolicy":7.2,"Other":33.3}
]},
"spacing": 43,
"resolve": {"scale": {"color": "independent", "strokeWidth": "independent", "strokeDash": "independent"}, "legend": {"color": "independent", "strokeWidth": "independent", "strokeDash": "independent"}},
"vconcat": [
{
 "width": 2015, "height": 543,
 "view": {"stroke": "#352d6b", "strokeWidth": 5},
 "title": {"text": "General Index & BBD Comparison", "fontSize": 50, "fontWeight": "bold", "fontStyle": "italic", "anchor": "middle", "frame": "group", "dx": -34, "offset": 11, "baseline": "alphabetic", "font": "DejaVu Sans", "color": "black"},
 "encoding": {"x": {"field": "d", "type": "temporal", "scale": {"domain": [{"year": 2015, "month": 1, "date": 1}, {"year": 2026, "month": 9, "date": 1}]},
   "axis": {"values": [{"year":2015},{"year":2016},{"year":2017},{"year":2018},{"year":2019},{"year":2020},{"year":2021},{"year":2022},{"year":2023},{"year":2024},{"year":2025},{"year":2026}],
     "format": "%Y", "labelExpr": "year(datum.value) % 2 == 0 ? datum.label : ''", "labelOverlap": false, "labelFlush": false,
     "grid": true, "gridColor": "#a8a8a8", "gridWidth": 3.5,
     "gridOpacity": {"condition": {"test": "year(datum.value) % 2 == 0", "value": 1}, "value": 0},
     "tickSize": {"condition": {"test": "year(datum.value) % 2 == 0", "value": 10}, "value": 5.5},
     "title": "Category Composition", "titleX": 973, "titleY": 131, "titleBaseline": "alphabetic", "titleAlign": "center", "titleFontSize": 50, "titleFontWeight": "bold", "titleFontStyle": "italic"}}},
 "layer": [
  {"transform": [{"fold": ["Monthly"], "as": ["series", "value"]}],
   "mark": {"type": "line", "strokeJoin": "round"},
   "encoding": {
    "y": {"field": "value", "type": "quantitative", "scale": {"domain": [7.43, 28.39], "zero": false, "nice": false},
      "axis": {"orient": "left", "values": [7.5,10,12.5,15,17.5,20,22.5,25,27.5], "format": ".1f", "title": "% of articles", "labelColor": "#0072BD", "titleColor": "#0072BD", "grid": true, "gridColor": "#d4d4d4", "gridWidth": 2.2, "titlePadding": 16}},
    "color": {"field": "series", "type": "nominal", "scale": {"domain": ["Monthly", "3-month MA", "BBD official"], "range": ["#8cbfe1", "#0072BD", "#D95319"]}, "legend": {"title": null}},
    "strokeWidth": {"field": "series", "type": "nominal", "scale": {"domain": ["Monthly", "3-month MA", "BBD official"], "range": [3.5, 7.5, 6]}, "legend": {"title": null}},
    "strokeDash": {"field": "series", "type": "nominal", "scale": {"domain": ["Monthly", "3-month MA", "BBD official"], "range": [[1,0],[1,0],[22,10]]}, "legend": {"title": null}}}},
  {"transform": [{"fold": ["3-month MA"], "as": ["series", "value"]}],
   "mark": {"type": "line", "strokeJoin": "round"},
   "encoding": {
    "y": {"field": "value", "type": "quantitative", "scale": {"domain": [7.43, 28.39], "zero": false, "nice": false}, "axis": null},
    "color": {"field": "series", "type": "nominal", "scale": {"domain": ["Monthly", "3-month MA", "BBD official"], "range": ["#8cbfe1", "#0072BD", "#D95319"]}, "legend": {"title": null}},
    "strokeWidth": {"field": "series", "type": "nominal", "scale": {"domain": ["Monthly", "3-month MA", "BBD official"], "range": [3.5, 7.5, 6]}, "legend": {"title": null}},
    "strokeDash": {"field": "series", "type": "nominal", "scale": {"domain": ["Monthly", "3-month MA", "BBD official"], "range": [[1,0],[1,0],[22,10]]}, "legend": {"title": null}}}},
  {"transform": [{"fold": ["BBD official"], "as": ["series", "value"]}],
   "mark": {"type": "line", "strokeJoin": "round", "strokeCap": "butt"},
   "encoding": {
    "y": {"field": "value", "type": "quantitative", "scale": {"domain": [-5, 446], "zero": false, "nice": false},
      "axis": {"orient": "right", "values": [0,100,200,300,400], "title": "BBD index", "labelColor": "#D95319", "titleColor": "#D95319", "grid": false, "titleAngle": 270, "titleBaseline": "top", "titlePadding": 12}},
    "color": {"field": "series", "type": "nominal", "scale": {"domain": ["Monthly", "3-month MA", "BBD official"], "range": ["#8cbfe1", "#0072BD", "#D95319"]}, "legend": {"title": null}},
    "strokeWidth": {"field": "series", "type": "nominal", "scale": {"domain": ["Monthly", "3-month MA", "BBD official"], "range": [3.5, 7.5, 6]}, "legend": {"title": null}},
    "strokeDash": {"field": "series", "type": "nominal", "scale": {"domain": ["Monthly", "3-month MA", "BBD official"], "range": [[1,0],[1,0],[22,10]]}, "legend": {"title": null}}}}
 ],
 "resolve": {"scale": {"y": "independent"}}
},
{
 "width": 2015, "height": 543,
 "view": {"stroke": "#594e96", "strokeWidth": 4},
 "title": {"text": "Monitoring Mexico", "orient": "bottom", "anchor": "end", "frame": "group", "dx": 231, "dy": -8, "offset": 0, "baseline": "alphabetic", "fontSize": 39, "fontWeight": "bold", "fontStyle": "italic", "font": "DejaVu Sans", "color": "black"},
 "transform": [
  {"fold": ["Taxes", "SovereignDebtCurrency", "MonetaryPolicy", "TradePolicy", "EnergyPolicy", "FiscalPolicy", "Other"], "as": ["category", "share"]},
  {"lookup": "category", "from": {"data": {"name": "ord"}, "key": "category", "fields": ["o"]}}
 ],
 "mark": {"type": "area", "interpolate": "linear"},
 "encoding": {
  "x": {"field": "d", "type": "temporal", "scale": {"domain": [{"year": 2015, "month": 1, "date": 1}, {"year": 2026, "month": 9, "date": 1}]},
   "axis": {"values": [{"year":2015},{"year":2016},{"year":2017},{"year":2018},{"year":2019},{"year":2020},{"year":2021},{"year":2022},{"year":2023},{"year":2024},{"year":2025},{"year":2026}],
     "format": "%Y", "labelExpr": "year(datum.value) % 2 == 0 ? datum.label : ''", "labelOverlap": false, "labelFlush": false, "zindex": 1,
     "grid": true, "gridColor": "#a8a8a8", "gridWidth": 3.5,
     "gridOpacity": {"condition": {"test": "year(datum.value) % 2 == 0", "value": 0.9}, "value": 0},
     "tickSize": {"condition": {"test": "year(datum.value) % 2 == 0", "value": 10}, "value": 5.5},
     "title": "Source: Mexican news scrape (5 outlets, 2015+) + BBD; Created: 2026-08-01", "titleX": -299, "titleY": 143, "titleAlign": "left", "titleBaseline": "alphabetic", "titleFontSize": 39, "titleFontWeight": "bold"}},
  "y": {"field": "share", "type": "quantitative", "stack": "zero", "scale": {"domain": [0, 150.5], "nice": false},
   "axis": {"values": [0,20,40,60,80,100,120,140], "title": "% of articles", "grid": true, "gridColor": "#cccccc", "gridOpacity": 0.75, "gridWidth": 2.2, "zindex": 1, "titlePadding": 18}},
  "color": {"field": "category", "type": "nominal",
   "scale": {"domain": ["Taxes", "SovereignDebtCurrency", "Other", "TradePolicy", "EnergyPolicy", "MonetaryPolicy", "FiscalPolicy"],
             "range": ["#2787c6", "#e06c3a", "#b0374e", "#8e4f9d", "#8cb74d", "#f0bb42", "#67c5ef"]},
   "legend": {"title": null, "columns": 3, "symbolType": "M-1,-0.68H3V0.68H-1Z", "symbolSize": 484, "labelFontSize": 22, "offset": 9, "padding": 7, "labelOffset": 41, "columnPadding": 44, "rowPadding": 9.5, "orient": "top-left"}},
  "order": {"field": "o", "type": "quantitative"}
 }
}
],
"config": {
 "font": "DejaVu Sans",
 "axis": {"labelFontSize": 27, "titleFontSize": 27, "titleFontWeight": "normal", "labelFont": "DejaVu Sans", "titleFont": "DejaVu Sans", "labelColor": "black", "titleColor": "black", "tickColor": "black", "tickWidth": 2.2, "tickSize": 10, "labelPadding": 10, "domain": false},
 "legend": {"orient": "top-left", "offset": 9, "labelFontSize": 25, "labelFont": "DejaVu Sans", "labelColor": "black", "symbolType": "M-1,0H3", "symbolSize": 729, "padding": 8, "labelOffset": 45, "rowPadding": 5.5, "strokeColor": "#d0d0d0", "fillColor": "rgba(255,255,255,0.85)", "cornerRadius": 6, "labelLimit": 0},
 "title": {"font": "DejaVu Sans", "color": "black"}
}
}
